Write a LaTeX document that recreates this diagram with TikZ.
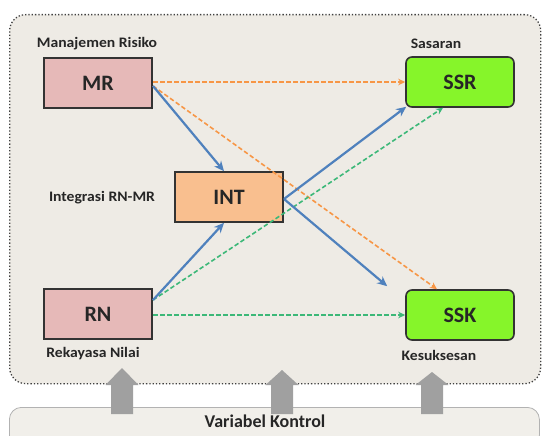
\documentclass[tikz,border=0pt]{standalone}
\usepackage{fontspec}
\setmainfont{Carlito}
\usetikzlibrary{arrows.meta}
\definecolor{bgbeige}{HTML}{EEEBE5}
\definecolor{mrpink}{HTML}{E6B9B8}
\definecolor{intor}{HTML}{F9BF8F}
\definecolor{sgreen}{HTML}{86F52A}
\definecolor{bluearr}{HTML}{4F81BD}
\definecolor{orarr}{HTML}{F79646}
\definecolor{grarr}{HTML}{3CB878}
\definecolor{grayarr}{HTML}{A0A0A0}
\tikzset{
  sqbox/.style={draw=black!80, line width=1.6pt, minimum width=108pt, minimum height=50pt, font=\bfseries\fontsize{22}{22}\selectfont, text=black!85},
  rbox/.style={sqbox, rounded corners=6pt, fill=sgreen},
  lbl/.style={font=\bfseries\fontsize{14.5}{15}\selectfont, text=black!85, xscale=1.08},
  bluea/.style={draw=bluearr, line width=2.2pt, -{Stealth[length=10pt,width=9pt]}},
  ora/.style={draw=orarr, line width=1.6pt, dashed, dash pattern=on 4.5pt off 2.5pt, -{Stealth[length=7pt,width=6.5pt]}},
  gra/.style={draw=grarr, line width=1.6pt, dashed, dash pattern=on 4.5pt off 2.5pt, -{Stealth[length=7pt,width=6.5pt]}},
  uparr/.style={fill=grayarr, draw=none},
}
\begin{document}
\begin{tikzpicture}[x=1pt,y=-1pt]
\useasboundingbox (0,0) rectangle (543,436);
% bottom control box
\node[draw=black!30, line width=0.8pt, fill=bgbeige!80, rounded corners=12pt, minimum width=530pt, minimum height=40pt, anchor=north west] (vk) at (9,407) {};
\node[font=\bfseries\fontsize{18}{19}\selectfont, text=black!85] (vkt) at (265,421) {Variabel Kontrol};
% outer dotted box
\node[draw=black!75, line width=1.3pt, dotted, fill=bgbeige, rounded corners=16pt, minimum width=531pt, minimum height=369pt, anchor=north west] (outer) at (9,14) {};
% up arrows
\foreach \cx/\ty in {122/368, 282/370, 432/372}{
  \fill[uparr] (\cx-11,414) -- (\cx-11,385) -- (\cx-16.5,385) -- (\cx,\ty) -- (\cx+16.5,385) -- (\cx+11,385) -- (\cx+11,414) -- cycle;
}
% nodes
\node[sqbox, fill=mrpink] (mr) at (98,83) {MR};
\node[rbox] (ssr) at (460,82) {SSR};
\node[sqbox, fill=intor] (int) at (229,197) {INT};
\node[sqbox, fill=mrpink] (rn) at (98,314) {RN};
\node[rbox] (ssk) at (460,315) {SSK};
% labels
\node[lbl] (lmr) at (97,44) {Manajemen Risiko};
\node[lbl] (lssr) at (436,44) {Sasaran};
\node[lbl] (lint) at (102,198) {Integrasi RN-MR};
\node[lbl] (lrn) at (93,354) {Rekayasa Nilai};
\node[lbl] (lssk) at (439,355) {Kesuksesan};
% coordinates
\coordinate (mrA) at (153,82);
\coordinate (mrB) at (153,86);
\coordinate (rnA) at (153,300);
\coordinate (rnB) at (153,315);
\coordinate (intR) at (284,199);
% arrows
\draw[ora] (mrA) -- (ssr.west);
\draw[ora] (mrB) -- ([xshift=-23pt]ssk.north);
\draw[gra] (rnA) -- ([xshift=-17pt]ssr.south);
\draw[gra] (rnB) -- (ssk.west);
\draw[bluea] (mrB) -- ([xshift=-5pt]int.north);
\draw[bluea] (rnA) -- ([xshift=-5pt]int.south);
\draw[bluea] (intR) -- ([xshift=1pt,yshift=1pt]ssr.south west);
\draw[bluea] (intR) -- ([xshift=-18pt,yshift=3pt]ssk.north west);
\end{tikzpicture}
\end{document}
